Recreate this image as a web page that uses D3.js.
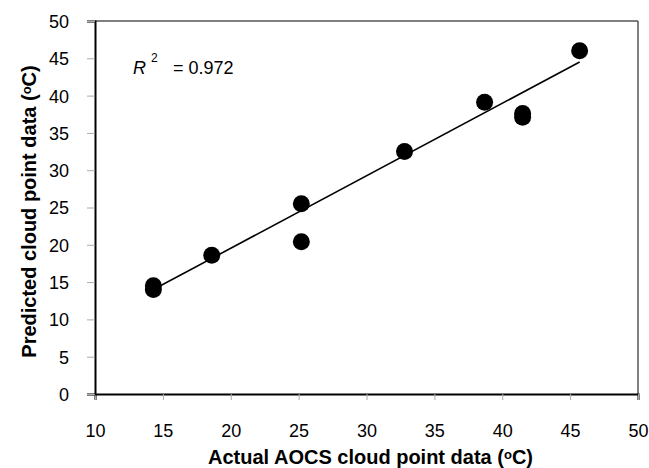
<!DOCTYPE html>
<html>
<head>
<meta charset="utf-8">
<script src="https://cdn.jsdelivr.net/npm/d3@7"></script>
<style>
  body { margin: 0; background: #fff; }
  svg { font-family: "Liberation Sans", Arial, sans-serif; }
</style>
</head>
<body>
<svg width="649" height="468"></svg>
<script>
// measured data (actual vs predicted cloud point, °C)
var actual    = [14.3, 14.3, 18.6, 25.2, 25.2, 32.8, 38.7, 41.5, 41.5, 45.7];
var predicted = [14.5, 14.0, 18.6, 25.5, 20.4, 32.5, 39.1, 37.6, 37.1, 46.0];
// fitted line end points
var fitX = [14.3, 45.7];
var fitY = [14.0, 44.5];
var xTicks = [10, 15, 20, 25, 30, 35, 40, 45, 50];
var yTicks = [0, 5, 10, 15, 20, 25, 30, 35, 40, 45, 50];
var rSquared = "0.972";

var svg = d3.select("svg"),
    margin = { top: 21, right: 11, bottom: 74, left: 95 },
    width = +svg.attr("width") - margin.left - margin.right,
    height = +svg.attr("height") - margin.top - margin.bottom;

var x = d3.scaleLinear().domain([10, 50]).range([0, width]),
    y = d3.scaleLinear().domain([0, 50]).range([height, 0]);

var g = svg.append("g")
    .attr("transform", "translate(" + margin.left + "," + margin.top + ")");

// frame: top/right grey, left/bottom black
g.append("line").attr("x1", 0).attr("x2", width).attr("y1", 0).attr("y2", 0)
    .attr("stroke", "#555").attr("stroke-width", 1.5);
g.append("line").attr("x1", width).attr("x2", width).attr("y1", 0).attr("y2", height)
    .attr("stroke", "#555").attr("stroke-width", 1.5);

var xAxis = d3.axisBottom(x).tickValues(xTicks).tickSize(6).tickPadding(24);
var yAxis = d3.axisLeft(y).tickValues(yTicks).tickSize(8).tickPadding(18);

var gx = g.append("g")
    .attr("transform", "translate(0," + height + ")")
    .call(xAxis);
var gy = g.append("g").call(yAxis);

[gx, gy].forEach(function (a) {
    a.select(".domain").attr("stroke", "#000").attr("stroke-width", 2);
    a.selectAll(".tick line").attr("stroke", "#aaa").attr("stroke-width", 1);
    a.selectAll(".tick text").attr("fill", "#000").style("font-size", "18px")
        .style("font-family", "'Liberation Sans', Arial, sans-serif");
});
gy.selectAll(".tick text").attr("dy", "0.36em");
gx.selectAll(".tick text").attr("dy", "0.72em");

// fitted line
g.append("line")
    .attr("x1", x(fitX[0])).attr("y1", y(fitY[0]))
    .attr("x2", x(fitX[1])).attr("y2", y(fitY[1]))
    .attr("stroke", "#000").attr("stroke-width", 1.6);

// points
g.selectAll("circle.pt")
    .data(actual)
    .enter().append("circle")
    .attr("class", "pt")
    .attr("cx", function (d) { return x(d); })
    .attr("cy", function (d, i) { return y(predicted[i]); })
    .attr("r", 8.5)
    .attr("fill", "#000");

// R² label
var rt = svg.append("text")
    .attr("x", 133).attr("y", 74)
    .style("font-size", "18px");
rt.append("tspan").style("font-style", "italic").text("R");
rt.append("tspan").attr("dx", 5).attr("dy", -12).style("font-size", "12px").text("2");
rt.append("tspan").attr("x", 173).attr("dy", 12).text("= " + rSquared);

// axis titles
var xt = svg.append("text")
    .attr("x", margin.left + width / 2 + 4).attr("y", 464)
    .attr("text-anchor", "middle")
    .style("font-size", "20px").style("font-weight", "bold");
xt.append("tspan").text("Actual AOCS cloud point data (");
xt.append("tspan").attr("dy", -5).style("font-size", "13px").text("o");
xt.append("tspan").attr("dy", 5).text("C)");

var yt = svg.append("text")
    .attr("transform", "translate(36," + (margin.top + height / 2 + 4) + ") rotate(-90)")
    .attr("text-anchor", "middle")
    .style("font-size", "20px").style("font-weight", "bold");
yt.append("tspan").text("Predicted cloud point data (");
yt.append("tspan").attr("dy", -5).style("font-size", "13px").text("o");
yt.append("tspan").attr("dy", 5).text("C)");
</script>
</body>
</html>
